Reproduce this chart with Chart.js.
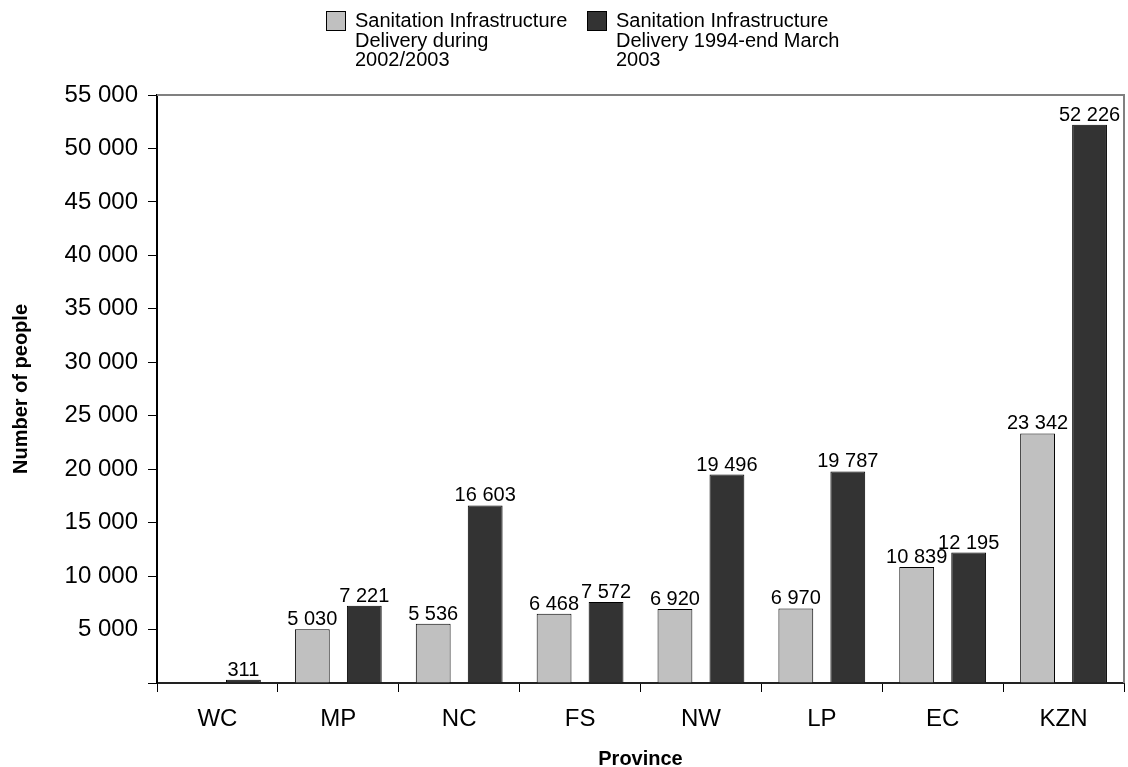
<!DOCTYPE html>
<html><head><meta charset="utf-8">
<script src="https://cdn.jsdelivr.net/npm/chart.js@4/dist/chart.umd.min.js"></script>
<style>html,body{margin:0;padding:0;background:#fff}#wrap{width:1128px;height:767px}</style>
</head><body><div id="wrap"><canvas id="c" width="1128" height="767"></canvas></div>
<script>
const categories = ["WC","MP","NC","FS","NW","LP","EC","KZN"];
const delivery2002 = [0, 5030, 5536, 6468, 6920, 6970, 10839, 23342];
const delivery1994 = [311, 7221, 16603, 7572, 19496, 19787, 12195, 52226];
const legendLines = [
  ["Sanitation Infrastructure","Delivery during","2002/2003"],
  ["Sanitation Infrastructure","Delivery 1994-end March","2003"]
];
const yTicks = {min:0, max:55000, step:5000};

const fmt = v => String(v).replace(/\B(?=(\d{3})+(?!\d))/g, " ");
const FONT = "'Liberation Sans', Arial, sans-serif";

const extras = {
  id:'extras',
  afterDatasetsDraw(chart){
    const ctx = chart.ctx, a = chart.chartArea;
    ctx.save();
    // top & right border
    ctx.strokeStyle = '#808080'; ctx.lineWidth = 2;
    ctx.beginPath(); ctx.moveTo(a.left, a.top); ctx.lineTo(a.right, a.top); ctx.lineTo(a.right, a.bottom); ctx.stroke();
    // data labels
    ctx.fillStyle = '#000'; ctx.font = "20px " + FONT; ctx.textAlign = 'center'; ctx.textBaseline = 'alphabetic';
    chart.data.datasets.forEach((ds, di) => {
      const meta = chart.getDatasetMeta(di);
      meta.data.forEach((bar, i) => {
        const v = ds.data[i];
        if (!v) return;
        ctx.fillText(fmt(v), bar.x, bar.y - 4);
      });
    });
    // legend
    const boxX = [326, 587];
    ctx.font = "20px " + FONT; ctx.textAlign = 'left'; ctx.textBaseline = 'alphabetic';
    chart.data.datasets.forEach((ds, di) => {
      ctx.fillStyle = ds.backgroundColor; ctx.strokeStyle = '#000'; ctx.lineWidth = 1;
      ctx.fillRect(boxX[di]+0.5, 11.5, 19, 19); ctx.strokeRect(boxX[di]+0.5, 11.5, 19, 19);
      ctx.fillStyle = '#000';
      legendLines[di].forEach((t, li) => ctx.fillText(t, boxX[di] + 29, 27 + li*19.5));
    });
    ctx.restore();
  }
};

new Chart(document.getElementById('c'), {
  type:'bar',
  data:{
    labels: categories,
    datasets:[
      {label:legendLines[0].join(' '), data: delivery2002, backgroundColor:'#c0c0c0', borderColor:'#000', borderWidth:1, categoryPercentage:0.86, barPercentage:0.67},
      {label:legendLines[1].join(' '), data: delivery1994, backgroundColor:'#333333', borderColor:'#000', borderWidth:1, categoryPercentage:0.86, barPercentage:0.67}
    ]
  },
  options:{
    responsive:false, animation:false,
    layout:{padding:{top:95, right:4, left:0, bottom:0}},
    plugins:{legend:{display:false}, tooltip:{enabled:false}},
    scales:{
      x:{
        offset:true,
        grid:{offset:true, drawOnChartArea:false, drawTicks:true, tickLength:9, color:'#000', lineWidth:1},
        border:{display:true, color:'#222', width:2},
        ticks:{color:'#000', font:{family:FONT, size:24}, padding:13},
        title:{display:true, text:'Province', color:'#000', font:{family:FONT, size:20, weight:'bold'}, padding:{top:5, bottom:-4}},
        afterFit(s){ s.height = 84; }
      },
      y:{
        min:yTicks.min, max:yTicks.max,
        grid:{drawOnChartArea:false, drawTicks:true, tickLength:9, color:'#000', lineWidth:1},
        border:{display:true, color:'#000', width:2},
        ticks:{stepSize:yTicks.step, color:'#000', font:{family:FONT, size:24}, padding:10,
          callback:v => v === 0 ? '' : fmt(v)},
        title:{display:true, text:'Number of people', color:'#000', font:{family:FONT, size:20, weight:'bold'}, padding:{top:9,bottom:4}},
        afterFit(s){ s.width = 157; }
      }
    }
  },
  plugins:[extras]
});
</script></body></html>
